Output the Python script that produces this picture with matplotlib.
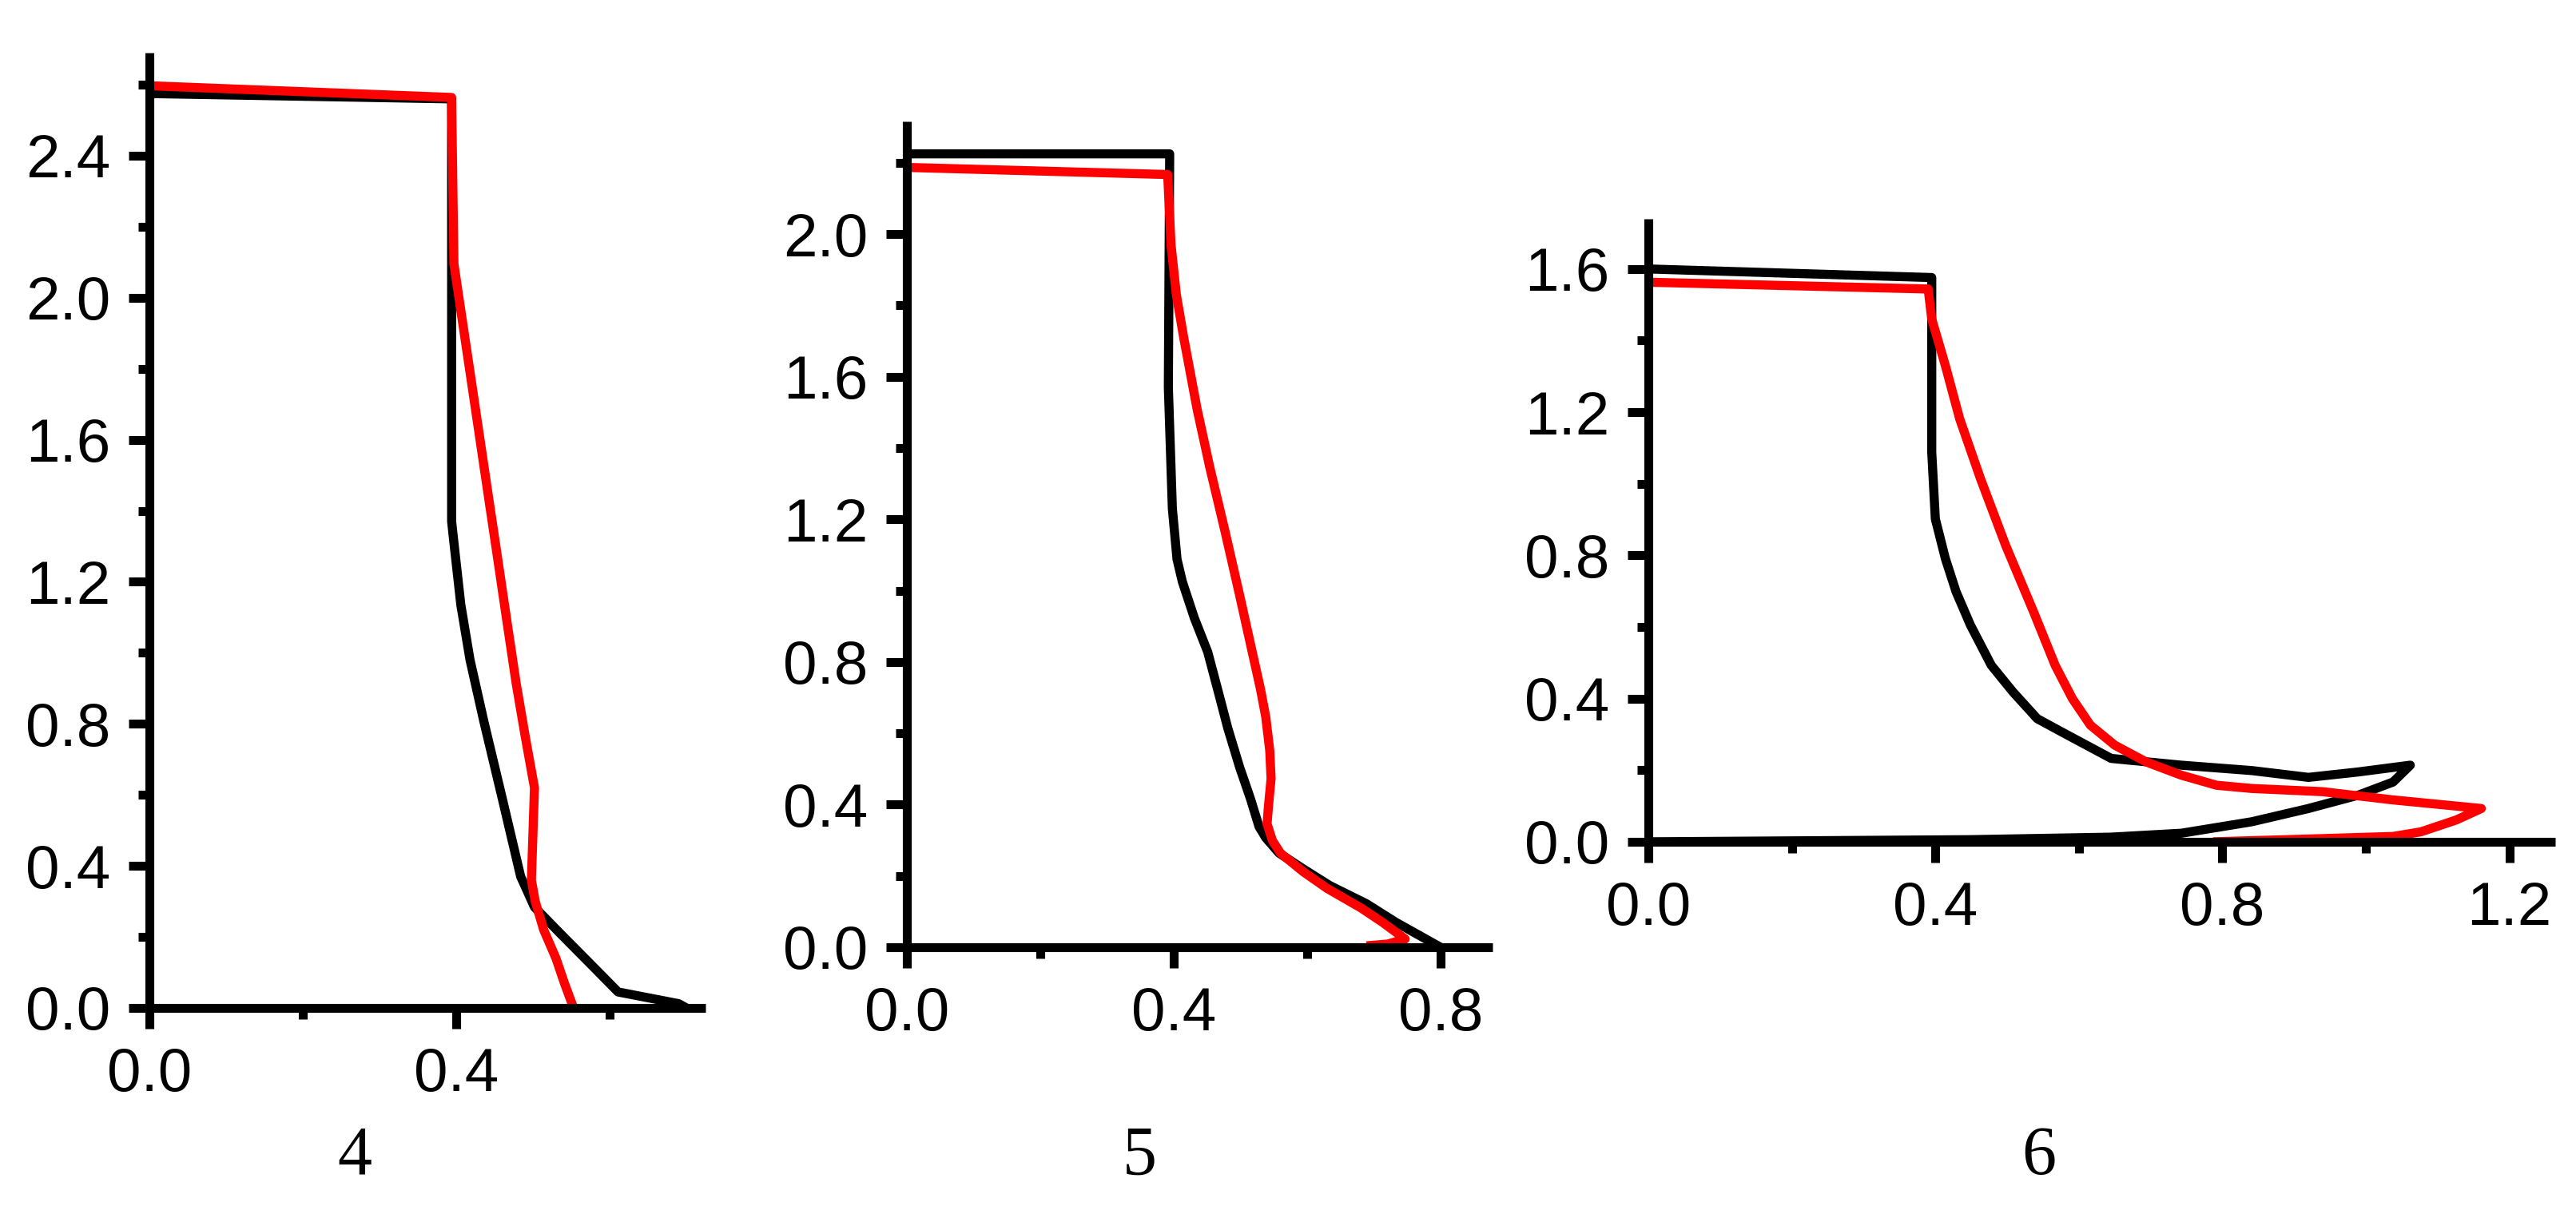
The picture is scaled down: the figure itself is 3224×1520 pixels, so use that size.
import matplotlib
matplotlib.use("Agg")
import matplotlib.pyplot as plt
from matplotlib.ticker import MultipleLocator

plt.rcParams['font.family'] = ['Liberation Sans', 'DejaVu Sans']

# panel 4
p4_black_x = [0, 0.394, 0.394, 0.397, 0.406, 0.418, 0.436, 0.46, 0.484, 0.502, 0.535, 0.574, 0.611, 0.69, 0.70]
p4_black_y = [2.575, 2.56, 1.37, 1.31, 1.135, 0.98, 0.807, 0.59, 0.37, 0.284, 0.211, 0.126, 0.045, 0.012, 0.0]
p4_red_x = [0, 0.394, 0.397, 0.406, 0.418, 0.43, 0.442, 0.454, 0.466, 0.478, 0.49, 0.502, 0.498, 0.503, 0.514, 0.53, 0.541, 0.553]
p4_red_y = [2.597, 2.564, 2.095, 1.964, 1.79, 1.615, 1.44, 1.266, 1.09, 0.916, 0.764, 0.62, 0.36, 0.30, 0.22, 0.14, 0.07, 0.0]

# panel 5
p5_black_x = [0, 0.394, 0.392, 0.398, 0.405, 0.413, 0.431, 0.451, 0.469, 0.481, 0.499, 0.515, 0.528, 0.538, 0.558, 0.594, 0.634, 0.689, 0.733, 0.80]
p5_black_y = [2.225, 2.225, 1.57, 1.23, 1.088, 1.025, 0.923, 0.828, 0.701, 0.615, 0.504, 0.417, 0.338, 0.307, 0.264, 0.220, 0.173, 0.122, 0.070, 0.0]
p5_red_x = [0, 0.391, 0.396, 0.404, 0.415, 0.435, 0.454, 0.477, 0.499, 0.515, 0.530, 0.538, 0.544, 0.546, 0.542, 0.540, 0.548, 0.56, 0.594, 0.630, 0.681, 0.713, 0.747, 0.721, 0.689]
p5_red_y = [2.187, 2.167, 1.97, 1.83, 1.71, 1.51, 1.347, 1.166, 0.986, 0.851, 0.725, 0.646, 0.552, 0.473, 0.394, 0.346, 0.299, 0.264, 0.212, 0.165, 0.110, 0.070, 0.023, 0.009, 0.004]

# panel 6
p6_black_x = [0, 0.395, 0.395, 0.4, 0.414, 0.429, 0.449, 0.478, 0.508, 0.542, 0.576, 0.645, 0.743, 0.841, 0.92, 0.989, 1.062,
              1.038, 0.989, 0.92, 0.841, 0.743, 0.645, 0.449, 0.154, 0]
p6_black_y = [1.60, 1.576, 1.088, 0.902, 0.791, 0.698, 0.605, 0.493, 0.419, 0.344, 0.307, 0.233, 0.214, 0.199, 0.180, 0.195, 0.214,
              0.167, 0.130, 0.093, 0.056, 0.024, 0.013, 0.006, 0.002, 0]
p6_red_x = [0, 0.39, 0.395, 0.414, 0.434, 0.463, 0.498, 0.537, 0.567, 0.591, 0.616, 0.65, 0.694, 0.743, 0.792, 0.841, 0.94, 1.038, 1.161,
            1.126, 1.077, 1.038, 0.94, 0.787]
p6_red_y = [1.563, 1.544, 1.46, 1.33, 1.181, 1.014, 0.828, 0.642, 0.493, 0.40, 0.326, 0.27, 0.223, 0.186, 0.158, 0.149, 0.14, 0.117, 0.093,
            0.061, 0.028, 0.015, 0.009, 0.0]

labels = ['4', '5', '6']
xlims = [0.725, 0.878, 1.264]
ylims = [2.69, 2.316, 1.74]

W, H = 3224, 1520
# left, right, bottom, top in pixels
boxes = [(187, 883, 1262, 66), (1135, 1868, 1186, 152), (2063, 3198, 1054, 274)]
label_x = [444, 1426, 2552]

fig = plt.figure(figsize=(W / 100, H / 100), dpi=100)

data = [(p4_black_x, p4_black_y, p4_red_x, p4_red_y),
        (p5_black_x, p5_black_y, p5_red_x, p5_red_y),
        (p6_black_x, p6_black_y, p6_red_x, p6_red_y)]

for i in range(3):
    l, r, b, t = boxes[i]
    ax = fig.add_axes([l / W, (H - b) / H, (r - l) / W, (b - t) / H])
    bx, by, rx, ry = data[i]
    ax.plot(bx, by, color='black', lw=8.2, solid_joinstyle='round', solid_capstyle='butt')
    ax.plot(rx, ry, color='#ff0000', lw=8.2, solid_joinstyle='round', solid_capstyle='butt')
    ax.set_xlim(0, xlims[i])
    ax.set_ylim(0, ylims[i])
    ax.spines['top'].set_visible(False)
    ax.spines['right'].set_visible(False)
    for s in ['left', 'bottom']:
        ax.spines[s].set_linewidth(8)
        ax.spines[s].set_capstyle('butt')
    ax.xaxis.set_major_locator(MultipleLocator(0.4))
    ax.xaxis.set_minor_locator(MultipleLocator(0.2))
    ax.yaxis.set_major_locator(MultipleLocator(0.4))
    ax.yaxis.set_minor_locator(MultipleLocator(0.2))
    ax.xaxis.set_major_formatter(lambda v, p: '%.1f' % v)
    ax.yaxis.set_major_formatter(lambda v, p: '%.1f' % v)
    ax.tick_params(which='major', direction='out', length=19, width=8, labelsize=55)
    ax.tick_params(which='minor', direction='out', length=10, width=8)
    ax.tick_params(axis='x', which='major', pad=16)
    ax.tick_params(axis='y', which='major', pad=16)
    fig.text(label_x[i] / W, (H - 1449) / H, labels[i], ha='center', va='center',
             fontsize=62, family=['Liberation Serif', 'DejaVu Serif'])

fig.savefig('out.png', dpi=100)
